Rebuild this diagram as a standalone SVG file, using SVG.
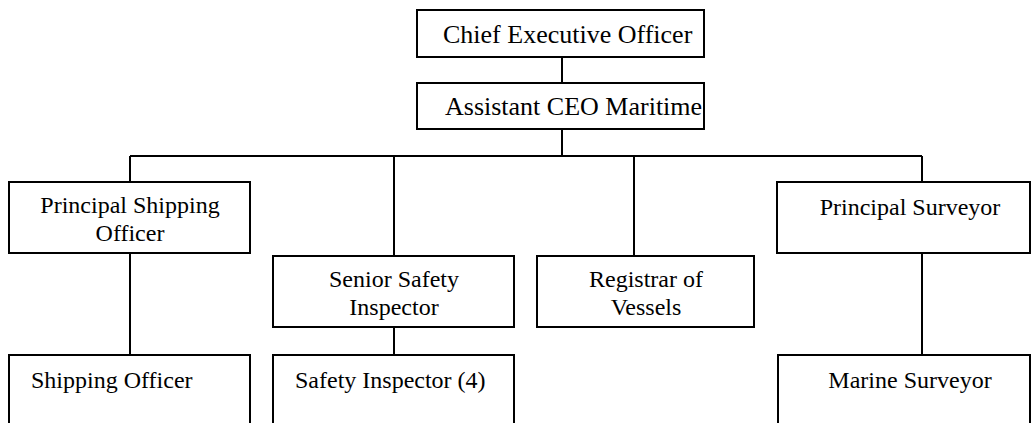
<svg xmlns="http://www.w3.org/2000/svg" width="1031" height="423" viewBox="0 0 1031 423">
<style>
.box{fill:#fff;stroke:#000;stroke-width:2}
.ln{fill:none;stroke:#000;stroke-width:2}
text{font-family:"Liberation Serif","Times New Roman",serif;font-size:24px;fill:#000}
.big{font-size:26px}
.m{text-anchor:middle}
</style>
<rect width="1031" height="423" fill="#fff"/>
<g id="connectors">
<path class="ln" d="M562 57V83"/>
<path class="ln" d="M562 129V156"/>
<path class="ln" d="M130 156H922"/>
<path class="ln" d="M130 156V182"/>
<path class="ln" d="M394 156V256"/>
<path class="ln" d="M634 156V256"/>
<path class="ln" d="M922 156V182"/>
<path class="ln" d="M130 253V355"/>
<path class="ln" d="M394 327V355"/>
<path class="ln" d="M922 253V355"/>
</g>
<g id="ceo"><rect class="box" x="417" y="10" width="287" height="47"/><text class="big" x="443" y="43">Chief Executive Officer</text></g>
<g id="acm"><rect class="box" x="417" y="83" width="287" height="46"/><text class="big" x="445" y="115">Assistant CEO Maritime</text></g>
<g id="pso"><rect class="box" x="9" y="182" width="241" height="71"/><text class="m" x="130" y="213">Principal Shipping</text><text class="m" x="130" y="241">Officer</text></g>
<g id="ssi"><rect class="box" x="273" y="256" width="241" height="71"/><text class="m" x="394" y="287">Senior Safety</text><text class="m" x="394" y="315">Inspector</text></g>
<g id="rov"><rect class="box" x="537" y="256" width="217" height="71"/><text class="m" x="646" y="287">Registrar of</text><text class="m" x="646" y="315">Vessels</text></g>
<g id="ps"><rect class="box" x="777" y="182" width="253" height="71"/><text class="m" x="910" y="215">Principal Surveyor</text></g>
<g id="so"><rect class="box" x="9" y="355" width="241" height="90"/><text x="31" y="388">Shipping Officer</text></g>
<g id="si"><rect class="box" x="273" y="355" width="241" height="90"/><text x="295" y="388">Safety Inspector (4)</text></g>
<g id="ms"><rect class="box" x="778" y="355" width="252" height="90"/><text class="m" x="910" y="388">Marine Surveyor</text></g>
</svg>
